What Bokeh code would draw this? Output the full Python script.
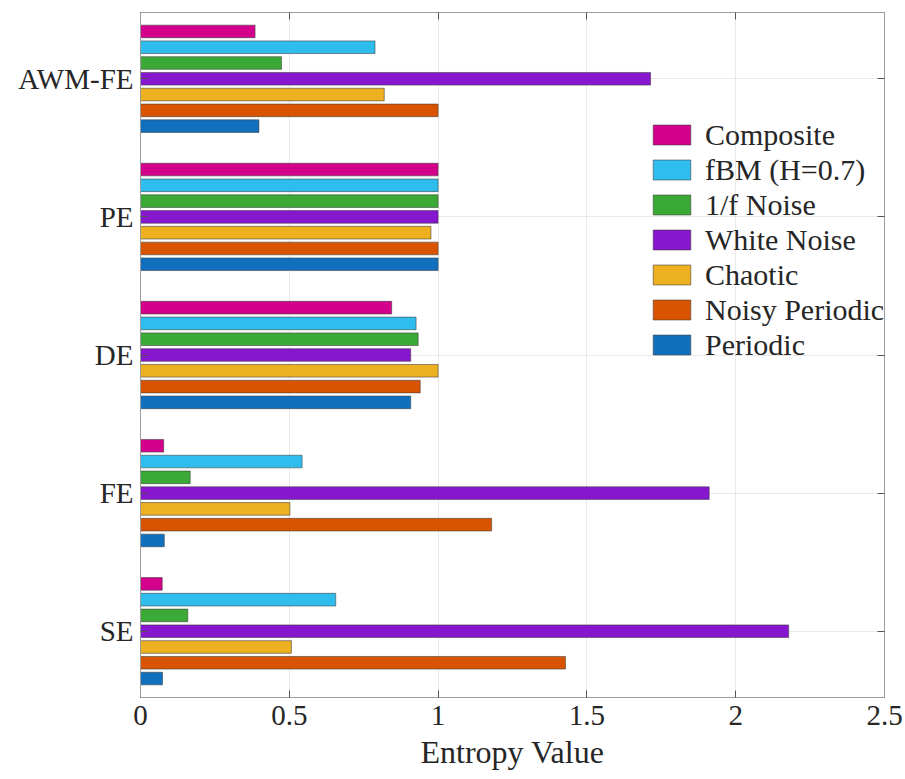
import numpy as np
from bokeh.plotting import figure
from bokeh.models import (ColumnDataSource, Legend, LegendItem, FixedTicker,
                          LinearAxis, Range1d, CustomJSTickFormatter)
from bokeh.embed import file_html
from bokeh.resources import INLINE

# Entropy measures (top to bottom on the chart)
measures = ["AWM-FE", "PE", "DE", "FE", "SE"]

# Signal classes, drawn top to bottom within each measure group
signals = ["Composite", "fBM (H=0.7)", "1/f Noise", "White Noise",
           "Chaotic", "Noisy Periodic", "Periodic"]

composite = [0.385, 1.000, 0.844, 0.078, 0.073]
fbm = [0.788, 1.000, 0.926, 0.543, 0.656]
pink_noise = [0.474, 1.000, 0.933, 0.167, 0.159]
white_noise = [1.714, 1.000, 0.908, 1.911, 2.178]
chaotic = [0.819, 0.976, 1.000, 0.502, 0.507]
noisy_periodic = [1.000, 1.000, 0.940, 1.180, 1.428]
periodic = [0.398, 1.000, 0.908, 0.080, 0.074]

series = [composite, fbm, pink_noise, white_noise, chaotic, noisy_periodic, periodic]
colors = ["#D2008A", "#2FBDEE", "#3AA935", "#8617CF",
          "#ECB020", "#D95400", "#1170BD"]

x_ticks = [0, 0.5, 1, 1.5, 2, 2.5]
x_tick_labels = ["0", "0.5", "1", "1.5", "2", "2.5"]

FONT = "'Liberation Serif', 'Times New Roman', serif"
TEXT = "#262626"
FRAME = "#9c9c9c"

n_cat = len(measures)
base = np.arange(n_cat, 0, -1).astype(float)  # AWM-FE at top
group_width = 0.8
slot = group_width / len(signals)
bar_h = slot * 0.8

p = figure(width=905, height=779, output_backend="svg", toolbar_location=None,
           x_range=Range1d(0, 2.5), y_range=Range1d(0.52, 5.48),
           min_border_left=140, min_border_right=21,
           min_border_top=12, min_border_bottom=82,
           background_fill_color="white", border_fill_color="white")

renderers = []
for i, (vals, col) in enumerate(zip(series, colors)):
    offset = (3 - i) * slot
    src = ColumnDataSource(dict(y=base + offset, right=vals))
    r = p.hbar(y="y", right="right", left=0, height=bar_h, source=src,
               fill_color=col, line_color="#3a3a3a", line_alpha=0.55,
               line_width=1)
    renderers.append(r)

# Axes
xa = p.xaxis[0]
xa.ticker = FixedTicker(ticks=x_ticks)
xa.major_label_overrides = {t: s for t, s in zip(x_ticks, x_tick_labels)}
xa.axis_label = "Entropy Value"
xa.axis_label_text_font = FONT
xa.axis_label_text_font_size = "32px"
xa.axis_label_text_font_style = "normal"
xa.axis_label_text_color = TEXT
xa.axis_label_standoff = 6
xa.major_label_standoff = 8

ya = p.yaxis[0]
ya.ticker = FixedTicker(ticks=list(base))
ya.major_label_overrides = {float(b): m for b, m in zip(base, measures)}
ya.major_label_standoff = 7

for ax in (xa, ya):
    ax.major_label_text_font = FONT
    ax.major_label_text_font_size = "29px"
    ax.major_label_text_color = TEXT
    ax.axis_line_color = FRAME
    ax.major_tick_line_color = "#555555"
    ax.major_tick_in = 7
    ax.major_tick_out = 0
    ax.minor_tick_line_color = None

# Box ticks on the top and right edges (no labels)
blank = CustomJSTickFormatter(code="return ''")
top_ax = LinearAxis(ticker=FixedTicker(ticks=x_ticks), formatter=blank,
                    axis_line_color=FRAME, major_tick_line_color="#555555",
                    major_tick_in=7, major_tick_out=0, minor_tick_line_color=None,
                    major_label_standoff=0)
right_ax = LinearAxis(ticker=FixedTicker(ticks=list(base)), formatter=blank,
                      axis_line_color=FRAME, major_tick_line_color="#555555",
                      major_tick_in=7, major_tick_out=0, minor_tick_line_color=None,
                      major_label_standoff=0)
p.add_layout(top_ax, "above")
p.add_layout(right_ax, "right")

p.outline_line_color = FRAME
p.xgrid.ticker = FixedTicker(ticks=x_ticks)
p.ygrid.ticker = FixedTicker(ticks=list(base))
p.grid.grid_line_color = "#262626"
p.grid.grid_line_alpha = 0.1
p.grid.level = "image"

legend = Legend(items=[LegendItem(label=s, renderers=[r]) for s, r in zip(signals, renderers)],
                location=(508, 335), orientation="vertical",
                background_fill_alpha=0, border_line_color=None,
                padding=0, margin=0, spacing=0,
                glyph_width=47, glyph_height=25, label_standoff=10,
                label_text_font=FONT, label_text_font_size="30px",
                label_text_color=TEXT, label_height=35)
p.add_layout(legend, "center")

open("out.html", "w").write(file_html(p, INLINE))
